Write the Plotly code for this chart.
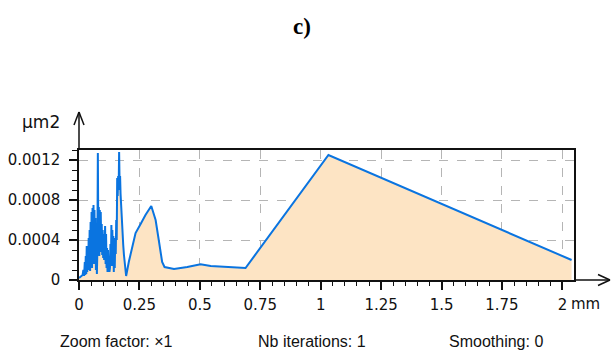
import plotly.graph_objects as go

# Profile of the measured area (µm²) along the scan distance (mm)
dist_mm = [
    0.000, 0.005, 0.010, 0.015, 0.018, 0.021, 0.024, 0.026, 0.028, 0.030,
    0.032, 0.034, 0.036, 0.038, 0.040, 0.042, 0.044, 0.046, 0.048, 0.050,
    0.052, 0.054, 0.056, 0.058, 0.060, 0.062, 0.064, 0.066, 0.068, 0.070,
    0.072, 0.074, 0.076, 0.078, 0.080, 0.082, 0.084, 0.086, 0.088, 0.090,
    0.092, 0.094, 0.096, 0.098, 0.100, 0.102, 0.104, 0.106, 0.108, 0.110,
    0.112, 0.114, 0.116, 0.118, 0.120, 0.122, 0.124, 0.126, 0.128, 0.130,
    0.132, 0.134, 0.136, 0.138, 0.140, 0.142, 0.144, 0.146, 0.148, 0.150,
    0.152, 0.154, 0.156, 0.158, 0.160, 0.162, 0.164, 0.166, 0.168, 0.170,
    0.172, 0.174, 0.176, 0.178, 0.180, 0.183, 0.186, 0.189, 0.192, 0.195,
    0.206, 0.220, 0.234, 0.255, 0.275, 0.299, 0.317, 0.330, 0.344, 0.354,
    0.393, 0.448, 0.503, 0.545, 0.600, 0.689, 1.032, 2.038,
]
area_um2 = [
    0.00002, 0.00003, 0.00004, 0.00005, 0.00010, 0.00004, 0.00018, 0.00005, 0.00024, 0.00006,
    0.00034, 0.00008, 0.00026, 0.00010, 0.00042, 0.00012, 0.00050, 0.00009, 0.00058, 0.00015,
    0.00068, 0.00012, 0.00072, 0.00020, 0.00075, 0.00016, 0.00070, 0.00022, 0.00062, 0.00010,
    0.00050, 0.00006, 0.00030, 0.00127, 0.00040, 0.00073, 0.00024, 0.00070, 0.00028, 0.00068,
    0.00030, 0.00056, 0.00025, 0.00050, 0.00022, 0.00046, 0.00020, 0.00028, 0.00054, 0.00016,
    0.00046, 0.00012, 0.00032, 0.00008, 0.00030, 0.00010, 0.00022, 0.00008, 0.00012, 0.00036,
    0.00014, 0.00055, 0.00020, 0.00050, 0.00014, 0.00044, 0.00008, 0.00036, 0.00012, 0.00042,
    0.00026, 0.00060, 0.00040, 0.00102, 0.00084, 0.00104, 0.00090, 0.00128, 0.00096, 0.00104,
    0.00086, 0.00074, 0.00068, 0.00056, 0.00046, 0.00035, 0.00025, 0.00016, 0.00008, 0.00004,
    0.00018, 0.00033, 0.00047, 0.00056, 0.00065, 0.00074, 0.00060, 0.00040, 0.00018, 0.00013,
    0.00011, 0.00013, 0.000157, 0.00014, 0.00013, 0.00012, 0.00125, 0.00020,
]

x_tick_vals = [0, 0.25, 0.5, 0.75, 1, 1.25, 1.5, 1.75, 2]
x_tick_text = ["0", "0.25", "0.5", "0.75", "1", "1.25", "1.5", "1.75", "2"]
y_tick_vals = [0, 0.0004, 0.0008, 0.0012]
y_tick_text = ["0", "0.0004", "0.0008", "0.0012"]

x_unit = "mm"
y_unit = "µm2"
panel_label = "c)"
footer_items = ["Zoom factor: ×1", "Nb iterations: 1", "Smoothing: 0"]

LINE = "#0a74e0"
FILL = "#fde4c4"
GRID = "#b5b5b5"
INK = "#111111"
TICK_FONT = "DejaVu Sans, Verdana, sans-serif"
SANS = "Liberation Sans, Arial, sans-serif"

fig = go.Figure()
fig.add_trace(go.Scatter(
    x=dist_mm, y=area_um2, mode="lines",
    line=dict(color=LINE, width=2),
    fill="tozeroy", fillcolor=FILL,
    hoverinfo="skip", showlegend=False,
))

axis_common = dict(
    showline=True, linecolor=INK, linewidth=1.5, mirror=True,
    showgrid=True, gridcolor=GRID, griddash="dash", gridwidth=1,
    ticks="outside", ticklen=8, tickwidth=1.5, tickcolor=INK,
    zeroline=False, automargin=False,
    tickfont=dict(family=TICK_FONT, size=15, color=INK),
)

fig.update_xaxes(
    range=[0, 2.048], tickmode="array", tickvals=x_tick_vals, ticktext=x_tick_text,
    minor=dict(dtick=0.05, ticks="outside", ticklen=4, tickwidth=1.2, tickcolor=INK, showgrid=False),
    ticklabelstandoff=2,
    **axis_common,
)
fig.update_yaxes(
    range=[0, 0.0013], tickmode="array", tickvals=y_tick_vals, ticktext=y_tick_text,
    minor=dict(dtick=0.0001, ticks="outside", ticklen=5, tickwidth=1.2, tickcolor=INK, showgrid=False),
    ticklabelstandoff=6,
    **axis_common,
)

# Plot area in pixels: left 79, right 574, top 150, bottom 280
L, R, T, B = 79, 574, 150, 280
W, H = R - L, B - T


def px(xp):
    return (xp - L) / W


def py(yp):
    return (B - yp) / H


shapes = []
# Extended axes with open arrow heads
shapes.append(dict(type="line", xref="paper", yref="paper", x0=1, x1=px(610), y0=0, y1=0,
                   line=dict(color=INK, width=1.5)))
shapes.append(dict(type="line", xref="paper", yref="paper", x0=px(598), x1=px(610), y0=py(274.5), y1=0,
                   line=dict(color=INK, width=1.5)))
shapes.append(dict(type="line", xref="paper", yref="paper", x0=px(598), x1=px(610), y0=py(285.5), y1=0,
                   line=dict(color=INK, width=1.5)))
shapes.append(dict(type="line", xref="paper", yref="paper", x0=0, x1=0, y0=1, y1=py(112),
                   line=dict(color=INK, width=1.5)))
shapes.append(dict(type="line", xref="paper", yref="paper", x0=px(74), x1=0, y0=py(125), y1=py(112),
                   line=dict(color=INK, width=1.5)))
shapes.append(dict(type="line", xref="paper", yref="paper", x0=px(84), x1=0, y0=py(125), y1=py(112),
                   line=dict(color=INK, width=1.5)))

annotations = [
    dict(text=y_unit, xref="paper", yref="paper", x=px(62), y=py(122),
         xanchor="right", yanchor="middle", showarrow=False,
         font=dict(family=TICK_FONT, size=17, color=INK)),
    dict(text=x_unit, xref="paper", yref="paper", x=px(569), y=py(304),
         xanchor="left", yanchor="middle", showarrow=False,
         font=dict(family=TICK_FONT, size=15, color=INK)),
    dict(text="<b>" + panel_label + "</b>", xref="paper", yref="paper", x=px(302), y=py(26),
         xanchor="center", yanchor="middle", showarrow=False,
         font=dict(family="Liberation Serif, Times New Roman, serif", size=23, color="#000000")),
]
for text, cx in zip(footer_items, [116.5, 312, 496]):
    annotations.append(dict(text=text, xref="paper", yref="paper", x=px(cx), y=py(341),
                            xanchor="center", yanchor="middle", showarrow=False,
                            font=dict(family=SANS, size=16, color=INK)))

fig.update_layout(
    width=611, height=350,
    margin=dict(l=L, r=611 - R, t=T, b=350 - B, pad=0),
    paper_bgcolor="white", plot_bgcolor="white",
    shapes=shapes, annotations=annotations,
    showlegend=False,
)

fig.write_html("out.html", config={"displayModeBar": False})
